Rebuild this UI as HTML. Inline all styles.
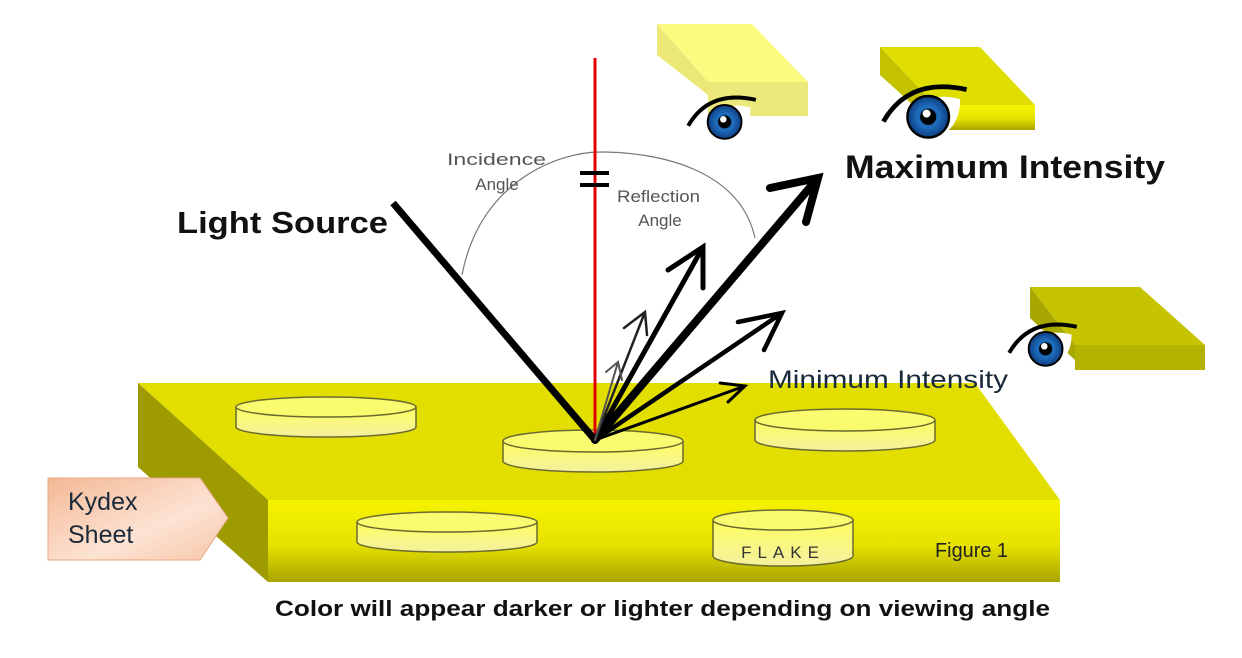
<!DOCTYPE html>
<html><head><meta charset="utf-8"><style>
html,body{margin:0;padding:0;background:#fff;}
svg{display:block;font-family:"Liberation Sans",Arial,sans-serif;}
</style></head><body>
<svg width="1242" height="658" viewBox="0 0 1242 658">
<defs>
<linearGradient id="front" x1="0" y1="0" x2="0" y2="1"><stop offset="0" stop-color="#f6f200"/><stop offset="0.55" stop-color="#e6e200"/><stop offset="1" stop-color="#a8a400"/></linearGradient>
<linearGradient id="kd" x1="0" y1="0" x2="1" y2="1"><stop offset="0" stop-color="#f3b895"/><stop offset="0.6" stop-color="#fde3d3"/><stop offset="1" stop-color="#f6c6a8"/></linearGradient>
<linearGradient id="fl" x1="0" y1="0" x2="0" y2="1"><stop offset="0" stop-color="#ffff60"/><stop offset="1" stop-color="#f4f0a0"/></linearGradient>
<radialGradient id="iris"><stop offset="0" stop-color="#0a2a60"/><stop offset="0.5" stop-color="#1f6fbf"/><stop offset="1" stop-color="#0d3c80"/></radialGradient>
<g id="eye">
<path d="M-26,6 Q-10,-22 26,-14" fill="none" stroke="#000" stroke-width="3"/>
<path d="M-20,4 Q0,-14 22,-8 Q22,14 0,18 Q-14,16 -20,4Z" fill="#fff"/>
<circle cx="2" cy="3" r="13" fill="url(#iris)" stroke="#000" stroke-width="1.5"/>
<circle cx="2" cy="3" r="5" fill="#000"/><circle cx="1" cy="1" r="2.5" fill="#fff"/>
</g>
</defs>
<polygon points="138,383 975,383 1060,500 268,500" fill="#e2df00"/>
<polygon points="138,383 268,500 268,582 138,467" fill="#9d9b00"/>
<rect x="268" y="500" width="792" height="82" fill="url(#front)"/>
<g stroke="#6b6a30" stroke-width="1.5" fill="url(#fl)">
<path d="M236,407 v20 a90,10 0 0 0 180,0 v-20"/><ellipse cx="326" cy="407" rx="90" ry="10" fill="#fbfb70"/>
<path d="M503,441 v20 a90,11 0 0 0 180,0 v-20"/><ellipse cx="593" cy="441" rx="90" ry="11" fill="#fbfb70"/>
<path d="M755,420 v20 a90,11 0 0 0 180,0 v-20"/><ellipse cx="845" cy="420" rx="90" ry="11" fill="#fbfb70"/>
<path d="M357,522 v20 a90,10 0 0 0 180,0 v-20"/><ellipse cx="447" cy="522" rx="90" ry="10" fill="#fbfb70"/>
<path d="M713,520 v36 a70,10 0 0 0 140,0 v-36"/><ellipse cx="783" cy="520" rx="70" ry="10" fill="#fbfb70"/>
</g>
<text x="783" y="558" font-size="17" text-anchor="middle" letter-spacing="6" fill="#333">FLAKE</text>
<text x="935" y="557" font-size="20" fill="#222" textLength="73" lengthAdjust="spacingAndGlyphs">Figure 1</text>
<polygon points="48,478 200,478 228,518 200,560 48,560" fill="url(#kd)" stroke="#e8a883" stroke-width="1"/>
<text x="68" y="510" font-size="25" fill="#1a2a3a">Kydex</text>
<text x="68" y="543" font-size="25" fill="#1a2a3a">Sheet</text>
<path d="M462,275 C480,180 560,152 600,152 C660,152 740,170 755,238" fill="none" stroke="#777" stroke-width="1.2"/>
<text x="447" y="165" font-size="17" fill="#555" textLength="99" lengthAdjust="spacingAndGlyphs">Incidence</text>
<text x="497" y="190" font-size="17" fill="#555" text-anchor="middle">Angle</text>
<text x="617" y="202" font-size="17" fill="#555" textLength="83" lengthAdjust="spacingAndGlyphs">Reflection</text>
<text x="660" y="226" font-size="17" fill="#555" text-anchor="middle">Angle</text>
<line x1="595" y1="58" x2="595" y2="440" stroke="#e00000" stroke-width="3"/>
<line x1="580" y1="173" x2="609" y2="173" stroke="#000" stroke-width="4"/>
<line x1="580" y1="185" x2="609" y2="185" stroke="#000" stroke-width="4"/>
<line x1="393" y1="203" x2="595" y2="440" stroke="#000" stroke-width="7"/>
<g fill="none" stroke="#000" stroke-linecap="round" stroke-linejoin="miter">
<path d="M595,440 L818,178 M770,188 L818,178 L806,222" stroke-width="8"/>
<path d="M595,440 L703,247 M668,270 L703,247 L703,288" stroke-width="5"/>
<path d="M595,440 L782,313 M738,322 L782,313 L764,350" stroke-width="4.5"/>
<path d="M595,440 L745,386 M720,383 L745,386 L728,402" stroke-width="3"/>
<path d="M595,440 L645,312 M624,328 L645,312 L647,335" stroke-width="2.5" stroke="#222"/>
<path d="M595,440 L618,362 M606,372 L618,362 L622,380" stroke-width="2" stroke="#555"/>
</g>
<text x="768" y="388" font-size="25" fill="#1a2a3a" textLength="240" lengthAdjust="spacingAndGlyphs">Minimum Intensity</text>
<text x="177" y="233" font-size="31" font-weight="bold" fill="#111" textLength="211" lengthAdjust="spacingAndGlyphs">Light Source</text>
<text x="845" y="178" font-size="32" font-weight="bold" fill="#111" textLength="320" lengthAdjust="spacingAndGlyphs">Maximum Intensity</text>
<text x="275" y="616" font-size="22" font-weight="bold" fill="#111" textLength="775" lengthAdjust="spacingAndGlyphs">Color will appear darker or lighter depending on viewing angle</text>
<polygon points="657,24 752,24 808,82 708,82" fill="#fdfa80"/>
<polygon points="657,24 708,82 708,95 657,55" fill="#ece878"/>
<rect x="708" y="82" width="100" height="34" fill="#ece87a"/>
<use href="#eye" transform="translate(722,118) scale(1.3)"/>
<polygon points="880,47 980,47 1035,105 935,105" fill="#e0de00"/>
<polygon points="880,47 935,105 935,125 880,75" fill="#c4c200"/>
<rect x="935" y="105" width="100" height="25" fill="url(#front)"/>
<use href="#eye" transform="translate(925,112) scale(1.6)"/>
<polygon points="1030,287 1140,287 1205,345 1075,345" fill="#c6c400"/>
<polygon points="1030,287 1075,345 1075,360 1030,318" fill="#a8a600"/>
<rect x="1075" y="345" width="130" height="25" fill="#b4b200"/>
<use href="#eye" transform="translate(1043,345) scale(1.3)"/>
</svg>
</body></html>
